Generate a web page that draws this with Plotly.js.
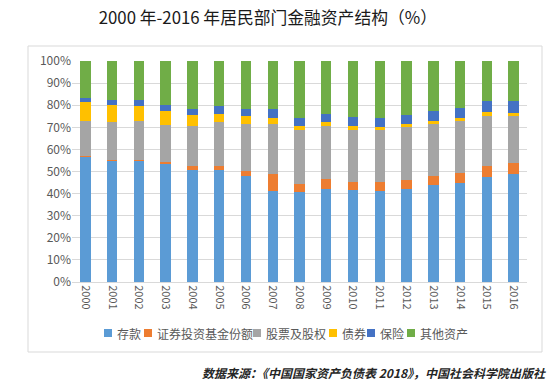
<!DOCTYPE html>
<html>
<head>
<meta charset="utf-8">
<script src="https://cdn.plot.ly/plotly-3.0.1.min.js"></script>
<style>
html,body{margin:0;padding:0;background:#fff;}
#chart{width:550px;height:383px;}
</style>
</head>
<body>
<div id="chart"></div>
<script>
// ---- data ----
var years = ['2000','2001','2002','2003','2004','2005','2006','2007','2008','2009','2010','2011','2012','2013','2014','2015','2016'];
var seriesNames = ['存款','证券投资基金份额','股票及股权','债券','保险','其他资产'];
var deposits   = [56.5,54.7,54.7,53.5,50.8,50.8,48.0,41.4,40.8,42.3,41.8,41.2,42.3,44.0,44.7,47.4,48.9];
var funds      = [0.6,0.6,0.6,0.9,1.8,1.8,2.2,7.5,3.6,4.2,3.5,4.1,3.9,4.0,4.5,5.0,4.9];
var equities   = [15.7,17.2,17.5,16.6,18.1,19.9,21.4,22.7,24.5,24.2,23.6,23.6,23.9,23.6,23.6,22.8,21.4];
var bonds      = [8.6,7.6,6.8,6.3,4.8,3.6,3.6,2.7,1.8,1.8,1.8,1.2,1.5,1.4,1.5,1.7,1.4];
var insurance  = [2.0,2.2,2.7,2.8,2.7,3.7,3.0,3.9,3.6,3.6,3.9,4.1,3.9,4.3,4.4,5.0,5.3];
var others     = [16.6,17.7,17.7,19.9,21.8,20.2,21.8,21.8,25.7,23.9,25.4,25.8,24.5,22.7,21.3,18.1,18.1];
var titleText = '2000 年-2016 年居民部门金融资产结构（%）';
var sourceText = '数据来源：《中国国家资产负债表 2018》，中国社会科学院出版社';

// ---- style ----
var colors = ['#5B9BD5','#ED7D31','#A5A5A5','#FFC000','#4472C4','#70AD47'];
var seriesValues = [deposits, funds, equities, bonds, insurance, others];
var font = '"Noto Sans CJK SC", "Noto Sans", sans-serif';

// plot area in pixels
var L = 72, R = 527, T = 61, B = 282;
function px(x){ return (x - L) / (R - L); }
function py(y){ return (B - y) / (B - T); }

var traces = seriesNames.map(function(n, i){
  return {
    type: 'bar', name: n, x: years, y: seriesValues[i],
    marker: {color: colors[i], line: {width: 0}},
    showlegend: false, hoverinfo: 'x+y+name'
  };
});

// manual legend (compact, Excel-like)
var legendSquareX = [104, 144, 253, 329, 367, 407];
var legendY = 333;
var shapes = [{
  type: 'rect', xref: 'paper', yref: 'paper',
  x0: px(28), x1: px(542), y0: py(352), y1: py(46),
  line: {color: '#D9D9D9', width: 1}, fillcolor: 'rgba(0,0,0,0)', layer: 'below'
}];
var annotations = [];
seriesNames.forEach(function(n, i){
  var x0 = legendSquareX[i];
  shapes.push({
    type: 'rect', xref: 'paper', yref: 'paper',
    x0: px(x0), x1: px(x0 + 8), y0: py(legendY + 4), y1: py(legendY - 4),
    line: {width: 0}, fillcolor: colors[i]
  });
  annotations.push({
    xref: 'paper', yref: 'paper', x: px(x0 + 10.5), y: py(legendY),
    xanchor: 'left', yanchor: 'middle', showarrow: false,
    text: n, font: {family: font, size: 12, color: '#595959'}
  });
});
annotations.push({
  xref: 'paper', yref: 'paper', x: px(548), y: py(373),
  xanchor: 'right', yanchor: 'middle', showarrow: false,
  text: '<b><i>' + sourceText + '</i></b>',
  font: {family: font, size: 12, color: '#262626'}
});

var layout = {
  width: 550, height: 383,
  margin: {l: L, r: 550 - R, t: T, b: 383 - B, pad: 0},
  paper_bgcolor: '#fff', plot_bgcolor: '#fff',
  barmode: 'stack', bargap: 0.61,
  title: {text: titleText, x: 0.487, xanchor: 'center', y: 1 - 18/383, yanchor: 'middle',
          font: {family: font, size: 16.8, color: '#1a1a1a'}},
  xaxis: {
    type: 'category', tickangle: 90, showgrid: false, showline: true,
    linecolor: '#D9D9D9', linewidth: 1, ticks: '',
    tickfont: {family: font, size: 11, color: '#595959'}, fixedrange: true
  },
  yaxis: {
    range: [0, 100], dtick: 10, ticksuffix: '%', showline: false,
    gridcolor: '#D9D9D9', gridwidth: 1, zeroline: false, ticks: '',
    tickfont: {family: font, size: 12, color: '#595959'}, fixedrange: true
  },
  shapes: shapes, annotations: annotations, showlegend: false
};

Plotly.newPlot('chart', traces, layout, {displayModeBar: false, staticPlot: true});
</script>
</body>
</html>
